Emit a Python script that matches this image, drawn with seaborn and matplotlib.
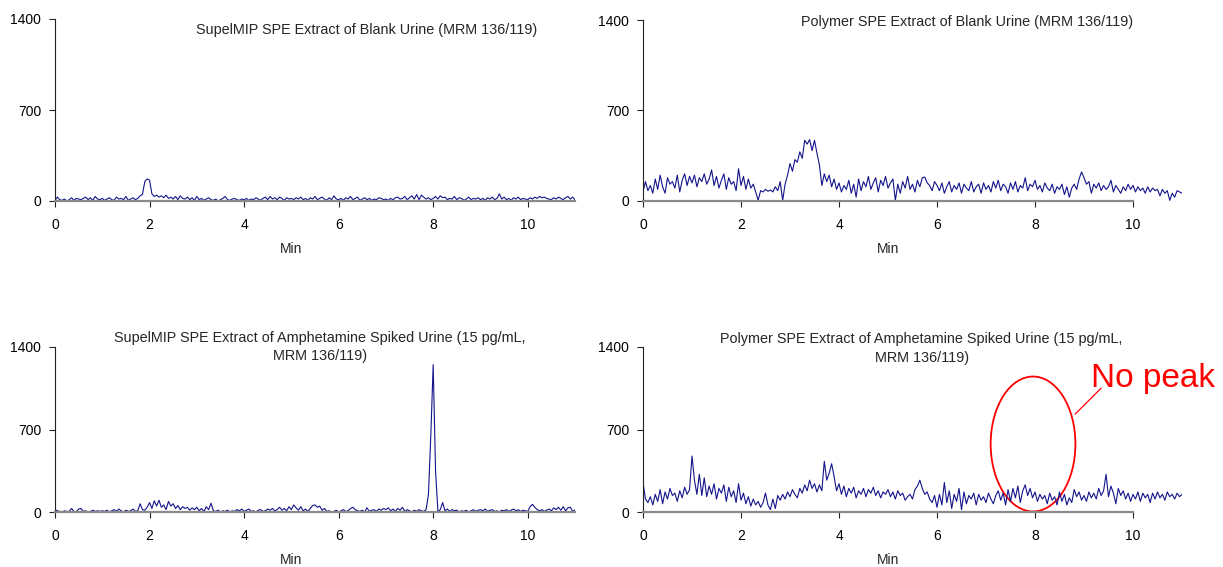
import numpy as np
import pandas as pd
import matplotlib
matplotlib.use("Agg")
import matplotlib.pyplot as plt
import seaborn as sns
from matplotlib.patches import Ellipse

# Chromatogram intensities, one value every 0.05 min (0 - 11 min)
step_min = 0.05

mip_blank = [
    5, 30, 10, 5, 15, 0, 10, 25, 5, 20, 15, 10, 20, 30, 10, 25, 5, 35, 15, 10,
    20, 5, 15, 25, 10, 5, 30, 15, 20, 10, 35, 5, 15, 25, 10, 20, 40, 50, 150, 170,
    160, 55, 35, 45, 30, 40, 25, 45, 20, 30, 15, 35, 10, 40, 20, 15, 30, 10, 25, 5,
    35, 10, 20, 5, 15, 25, 10, 5, 15, 0, 10, 20, 35, 10, 5, 15, 20, 10, 5, 15,
    10, 20, 5, 15, 10, 25, 15, 5, 20, 30, 10, 35, 15, 25, 10, 30, 20, 5, 25, 15,
    20, 10, 25, 15, 30, 10, 20, 5, 25, 15, 35, 10, 20, 30, 15, 5, 25, 10, 40, 15,
    10, 20, 5, 25, 15, 35, 10, 20, 30, 5, 15, 25, 10, 20, 5, 15, 10, 25, 20, 10,
    15, 5, 20, 10, 25, 30, 15, 20, 35, 10, 25, 40, 15, 50, 10, 45, 30, 15, 25, 10,
    20, 35, 15, 40, 25, 30, 10, 20, 15, 35, 10, 25, 20, 5, 15, 30, 10, 20, 15, 25,
    10, 20, 5, 25, 15, 30, 10, 20, 55, 15, 30, 10, 20, 5, 25, 15, 30, 10, 20, 15,
    10, 25, 15, 30, 20, 35, 25, 30, 20, 15, 10, 25, 15, 30, 20, 10, 25, 35, 15, 30,
    10,
]

polymer_blank = [
    70, 150, 80, 120, 60, 170, 90, 200, 110, 60, 180, 130, 150, 100, 200, 70, 160, 210, 120, 190,
    140, 200, 110, 180, 150, 210, 130, 170, 240, 120, 190, 100, 160, 210, 90, 180, 130, 150, 80, 250,
    120, 190, 90, 170, 100, 130, 70, 5, 80, 70, 90, 75, 85, 70, 110, 80, 150, 5, 130, 200,
    290, 230, 320, 300, 380, 330, 470, 440, 475, 390, 470, 370, 280, 120, 210, 150, 200, 110, 170, 90,
    140, 70, 120, 90, 160, 60, 130, 30, 170, 80, 150, 110, 190, 90, 140, 180, 70, 160, 120, 190,
    100, 140, 170, 5, 130, 60, 150, 100, 190, 90, 130, 70, 160, 110, 180, 185, 140, 120, 80, 150,
    120, 80, 140, 60, 110, 150, 70, 120, 90, 140, 60, 130, 100, 80, 150, 70, 110, 130, 60, 140,
    90, 120, 70, 150, 100, 160, 80, 130, 110, 60, 140, 90, 150, 70, 120, 100, 180, 80, 130, 110,
    160, 90, 120, 70, 140, 100, 80, 130, 60, 110, 90, 130, 50, 110, 30, 100, 130, 90, 170, 225,
    180, 130, 150, 60, 130, 100, 140, 80, 120, 90, 110, 160, 70, 120, 90, 60, 110, 80, 130, 90,
    120, 70, 110, 80, 100, 60, 110, 70, 100, 80, 90, 40, 90, 60, 80, 5, 60, 30, 80, 70,
    60,
]

mip_spiked = [
    20, 10, 5, 0, 10, 5, 5, 30, 5, 0, 25, 30, 5, 10, 0, 5, 15, 5, 10, 5,
    10, 5, 15, 0, 10, 20, 5, 25, 10, 0, 15, 5, 10, 25, 5, 10, 70, 20, 15, 40,
    80, 30, 95, 50, 100, 40, 60, 20, 90, 50, 70, 30, 55, 20, 45, 30, 40, 15, 35, 20,
    40, 10, 30, 5, 45, 20, 75, 10, 5, 15, 0, 10, 5, 15, 0, 10, 5, 20, 10, 25,
    5, 15, 25, 5, 10, 0, 15, 20, 5, 10, 25, 15, 30, 10, 20, 40, 15, 30, 10, 45,
    20, 60, 35, 15, 45, 10, 25, 5, 30, 55, 60, 40, 50, 15, 30, 5, 10, 0, 5, 15,
    0, 10, 20, 5, 10, 30, 40, 20, 10, 5, 15, 0, 35, 5, 15, 20, 5, 25, 15, 30,
    20, 35, 10, 25, 5, 30, 15, 40, 5, 20, 10, 0, 15, 5, 20, 10, 5, 20, 150, 650,
    1250, 350, 5, 20, 80, 10, 25, 5, 20, 10, 15, 0, 10, 5, 15, 0, 10, 20, 5, 15,
    20, 10, 25, 5, 15, 20, 5, 10, 0, 15, 10, 20, 5, 15, 25, 10, 20, 5, 15, 10,
    5, 45, 65, 40, 20, 10, 20, 5, 15, 25, 10, 35, 20, 40, 15, 45, 10, 35, 40, 5,
    20,
]

polymer_spiked = [
    250, 110, 80, 130, 60, 150, 90, 190, 70, 170, 110, 200, 140, 160, 90, 180, 120, 210, 150, 190,
    475, 270, 150, 320, 140, 290, 130, 220, 150, 240, 110, 200, 160, 230, 90, 210, 130, 180, 80, 240,
    100, 160, 70, 130, 50, 110, 60, 90, 40, 80, 160, 60, 20, 110, 30, 140, 100, 150, 110, 170,
    130, 190, 150, 120, 200, 160, 230, 180, 270, 200, 240, 170, 230, 180, 430, 270, 330, 410, 300, 180,
    240, 150, 220, 130, 200, 160, 210, 120, 180, 150, 200, 130, 190, 160, 210, 140, 180, 120, 170, 150,
    190, 130, 170, 110, 180, 140, 160, 100, 130, 150, 110, 190, 220, 270, 200, 150, 170, 110, 80, 140,
    40, 150, 60, 250, 80, 180, 30, 150, 90, 200, 20, 170, 70, 140, 110, 160, 60, 150, 100, 130,
    80, 160, 110, 70, 140, 180, 100, 160, 60, 190, 90, 200, 120, 220, 80, 180, 230, 140, 200, 120,
    170, 90, 150, 110, 140, 70, 160, 100, 130, 60, 170, 90, 150, 60, 120, 80, 190, 130, 170, 100,
    140, 90, 170, 120, 160, 110, 200, 140, 180, 320, 130, 220, 160, 70, 200, 140, 180, 110, 160, 90,
    150, 110, 170, 90, 160, 120, 150, 80, 160, 110, 170, 120, 150, 100, 170, 130, 150, 110, 160, 130,
    150,
]

titles = [
    "SupelMIP SPE Extract of Blank Urine (MRM 136/119)",
    "Polymer SPE Extract of Blank Urine (MRM 136/119)",
    "SupelMIP SPE Extract of Amphetamine Spiked Urine (15 pg/mL,\nMRM 136/119)",
    "Polymer SPE Extract of Amphetamine Spiked Urine (15 pg/mL,\nMRM 136/119)",
]
series = [mip_blank, polymer_blank, mip_spiked, polymer_spiked]
y_ticks = [0, 700, 1400]
x_ticks = [0, 2, 4, 6, 8, 10]

sns.set_theme(style="white")
plt.rcParams["font.family"] = ["Liberation Sans", "DejaVu Sans"]

W, H = 1223, 567
fig = plt.figure(figsize=(W / 100, H / 100), dpi=100)

# axes boxes in pixels: left, y of zero line, width, height
boxes = [(55, 201, 520, 182), (643, 201, 539, 181), (55, 512, 520, 165), (643, 512, 539, 165)]
# axis line end (min) and title anchor (axes fraction)
x_ends = [11, 10, 11, 10]
title_pos = [(0.60, 0.94), (0.601, 0.987), (0.51, 1.0), (0.517, 0.99)]

axes = []
for i, (vals, title) in enumerate(zip(series, titles)):
    l, b, w, h = boxes[i]
    ax = fig.add_axes([l / W, 1 - b / H, w / W, h / H])
    df = pd.DataFrame({"Min": np.round(np.arange(len(vals)) * step_min, 2), "Intensity": vals})
    sns.lineplot(data=df, x="Min", y="Intensity", ax=ax, color="#14148c", linewidth=0.8)

    ax.set_xlim(0, 11)
    ax.set_ylim(0, 1400)
    ax.set_xticks(x_ticks)
    ax.set_yticks(y_ticks)
    ax.set_xlabel("")
    ax.set_ylabel("")
    for s in ["top", "right"]:
        ax.spines[s].set_visible(False)
    ax.spines["bottom"].set_bounds(0, x_ends[i])
    ax.spines["bottom"].set_color("#8a8a8a")
    ax.spines["bottom"].set_linewidth(1.6)
    ax.spines["left"].set_color("#222222")
    ax.spines["left"].set_linewidth(0.8)
    ax.tick_params(axis="both", direction="out", length=4, width=0.8, color="#222222",
                   labelsize=10, labelcolor="black")
    ax.tick_params(axis="x", bottom=True, pad=8)
    ax.tick_params(axis="y", left=True, pad=6)
    ax.patch.set_alpha(0)

    ax.text(title_pos[i][0], title_pos[i][1], title, transform=ax.transAxes,
            ha="center", va="center", multialignment="center", fontsize=10.4,
            linespacing=1.45)
    ax.annotate("Min", xy=(5, 0), xycoords="data", xytext=(0, -48 * 0.72),
                textcoords="offset points", ha="center", va="center", fontsize=10)
    axes.append(ax)

# "No peak" call-out on the polymer spiked trace
ax4 = axes[3]
ax4.add_patch(Ellipse((7.96, 577), width=1.73, height=1145, fill=False,
                      edgecolor="red", linewidth=1.3, clip_on=False))
ax4.plot([8.82, 9.35], [831, 1051], color="red", linewidth=0.9, clip_on=False)
ax4.text(9.14, 1060, "No peak", color="red", fontsize=24, ha="left", va="baseline")

fig.savefig("out.png", dpi=100)
